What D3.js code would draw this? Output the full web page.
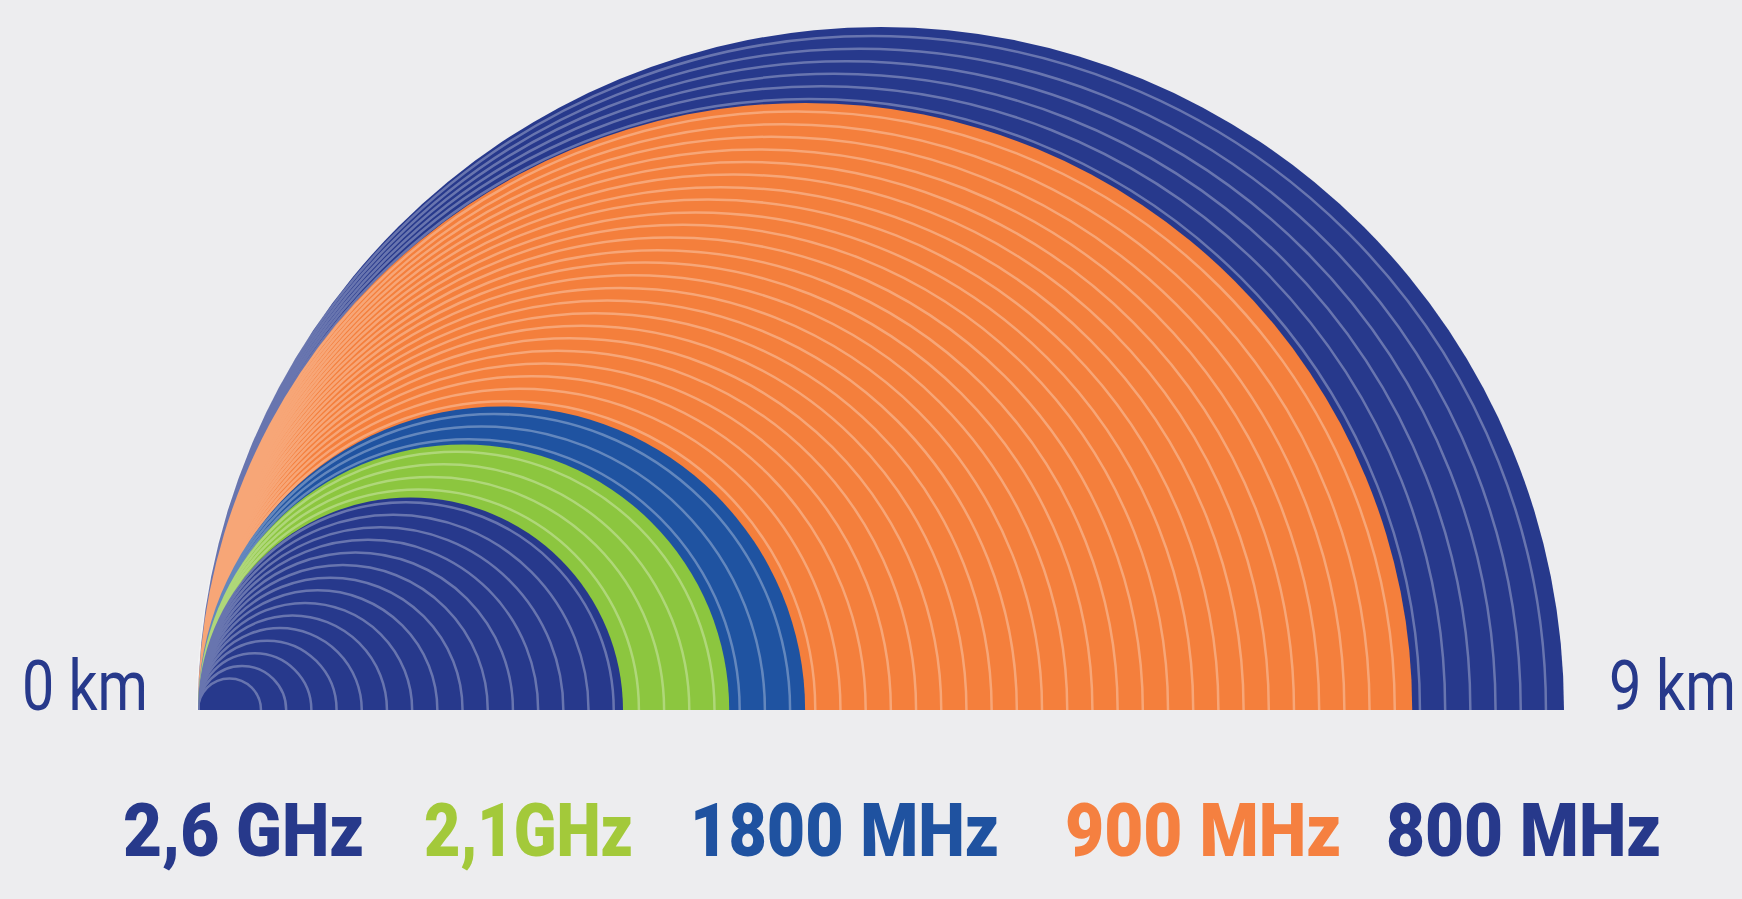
<!DOCTYPE html>
<html lang="en">
<head>
    <meta charset="UTF-8">
    <script src="https://d3js.org/d3.v7.min.js"></script>
    <title>Coverage by frequency</title>
    <style>
        html, body {
            margin: 0;
            padding: 0;
            background: #ededef;
        }
        svg {
            display: block;
        }
    </style>
</head>
<body>
<div id="chart"></div>

<script>
    // Frequency bands, reach in km
    const bands = ["2,6 GHz", "2,1GHz", "1800 MHz", "900 MHz", "800 MHz"];
    const reachKm = [2.8, 3.5, 4.0, 8.0, 9.0];
    const bandColors = ["#27398c", "#8cc63f", "#1f53a1", "#f47f3c", "#27398c"];
    const labelColors = ["#27398b", "#a3c93a", "#1f52a0", "#f58040", "#27398b"];

    // Axis end labels
    const axisLabels = ["0 km", "9 km"];
    const axisValues = [0, 9];

    // Decorative rings (every 1/6 km or so)
    const firstRingKm = 0.415;
    const ringStepKm = 0.166;

    const width = 1742;
    const height = 899;
    const baseY = 710;

    const svg = d3.select("#chart").append("svg")
        .attr("width", width)
        .attr("height", height);

    const x = d3.scaleLinear().domain([0, 9]).range([198, 1564]);

    // semicircle resting on the baseline, starting at 0 km
    function halfDisc(km, closed) {
        const r = (x(km) - x(0)) / 2;
        const p = d3.path();
        p.moveTo(x(0), baseY);
        p.arc(x(0) + r, baseY, r, Math.PI, 2 * Math.PI);
        if (closed) p.closePath();
        return p.toString();
    }

    // squeeze a text horizontally into a given width (the fonts are condensed)
    function fitText(sel, pos, y) {
        sel.each(function (d, i) {
            const len = this.getComputedTextLength();
            d3.select(this).attr("transform",
                `translate(${pos[i].x},${y}) scale(${pos[i].w / len},1)`);
        });
    }

    // bands, biggest first
    const order = d3.range(bands.length).sort((a, b) => reachKm[b] - reachKm[a]);

    svg.append("g")
        .selectAll("path")
        .data(order)
        .enter()
        .append("path")
        .attr("d", i => halfDisc(reachKm[i], true))
        .attr("fill", i => bandColors[i]);

    // thin light rings on top; group opacity so overlaps don't pile up to white
    const rings = d3.range(firstRingKm, 9, ringStepKm);
    svg.append("g")
        .attr("opacity", 0.3)
        .selectAll("path")
        .data(rings)
        .enter()
        .append("path")
        .attr("d", d => halfDisc(d, false))
        .attr("fill", "none")
        .attr("stroke", "#ffffff")
        .attr("stroke-width", 2.5);

    // 0 km / 9 km
    const axisPos = [{x: 22, w: 126}, {x: 1609, w: 127}];
    svg.append("g")
        .selectAll("text")
        .data(axisLabels)
        .enter()
        .append("text")
        .attr("font-family", "Roboto, sans-serif")
        .attr("font-weight", 400)
        .attr("font-size", 71)
        .attr("fill", "#27398b")
        .text(d => d)
        .call(fitText, axisPos, baseY);

    // band names along the bottom
    const labelPos = [
        {x: 123, w: 241},
        {x: 424, w: 209},
        {x: 690, w: 309},
        {x: 1065, w: 276},
        {x: 1386, w: 275}
    ];
    svg.append("g")
        .selectAll("text")
        .data(bands)
        .enter()
        .append("text")
        .attr("font-family", "Roboto, sans-serif")
        .attr("font-weight", 900)
        .attr("font-size", 75)
        .attr("fill", (d, i) => labelColors[i])
        .text(d => d)
        .call(fitText, labelPos, 856);
</script>
</body>
</html>
